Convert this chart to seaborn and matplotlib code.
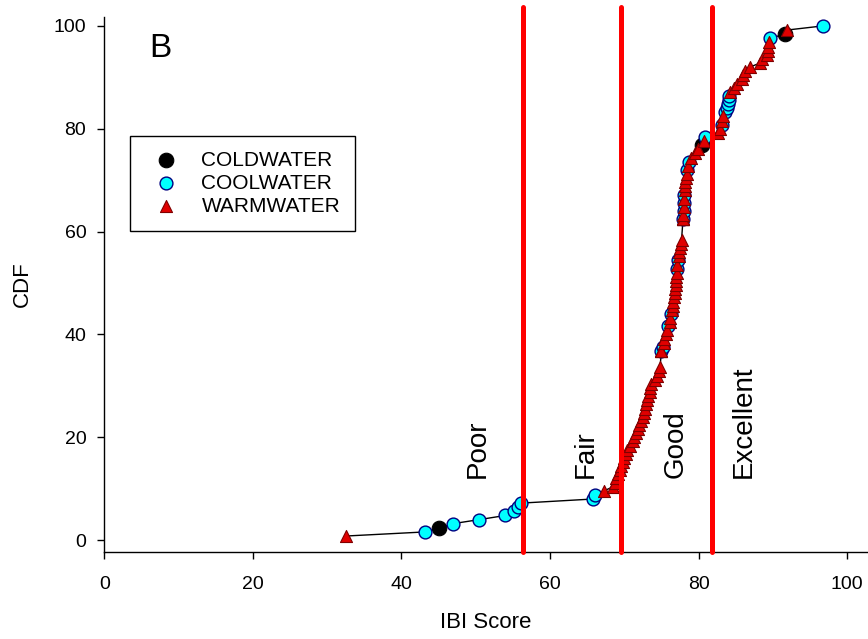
import numpy as np
import pandas as pd
import matplotlib
matplotlib.use("Agg")
import matplotlib.pyplot as plt
import seaborn as sns

# ---- data (IBI scores by stream thermal class) ----
cold_scores = [45.1, 80.4, 91.6]
cool_scores = [43.2, 46.9, 50.5, 54.0, 55.1, 55.7, 56.1, 65.8, 66.0, 75.0,
               75.2, 75.9, 76.3, 77.1, 77.2, 77.9, 77.97, 78.02, 78.08, 78.5,
               78.65, 80.9, 83.1, 83.5, 83.8, 84.0, 84.05, 84.1, 89.6, 96.7]
warm_scores = [32.5, 67.3, 68.5, 68.8, 68.9, 69.2, 69.4, 69.6, 69.8, 70.0,
               70.2, 70.4, 70.8, 71.1, 71.3, 71.6, 71.8, 72.0, 72.3, 72.5,
               72.7, 72.8, 72.9, 73.1, 73.2, 73.4, 73.5, 73.6, 74.1, 74.4,
               74.6, 74.8, 75.0, 75.0, 75.0, 75.3, 75.4, 75.6, 75.7, 76.1,
               76.2, 76.4, 76.5, 76.6, 76.7, 76.8, 76.85, 76.9, 76.95, 77.0,
               77.05, 77.15, 77.3, 77.4, 77.5, 77.6, 77.7, 77.9, 77.9, 77.9,
               77.9, 77.95, 78.0, 78.05, 78.1, 78.15, 78.2, 78.3, 78.4, 78.6,
               79.0, 79.5, 79.9, 80.7, 82.6, 82.9, 83.2, 83.3, 84.2, 84.7,
               85.1, 85.8, 86.0, 86.2, 86.9, 88.3, 88.5, 89.2, 89.3, 89.4,
               89.5, 91.9]
groups = ["COLDWATER", "COOLWATER", "WARMWATER"]
thresholds = [56.4, 69.5, 81.8]
class_labels = ["Poor", "Fair", "Good", "Excellent"]
class_label_x = [50.3, 64.8, 76.9, 86.1]
x_ticks = [0, 20, 40, 60, 80, 100]
y_ticks = [0, 20, 40, 60, 80, 100]

df = pd.DataFrame({
    "score": cold_scores + cool_scores + warm_scores,
    "group": [groups[0]] * len(cold_scores) + [groups[1]] * len(cool_scores)
             + [groups[2]] * len(warm_scores),
})
sorted_scores = np.sort(df["score"].values)
df["cdf"] = np.searchsorted(sorted_scores, df["score"].values, side="right") / len(df) * 100
df = df.sort_values(["score", "cdf"]).reset_index(drop=True)

sns.set_style("ticks")
plt.rcParams["font.family"] = ["Liberation Sans", "DejaVu Sans"]
plt.rcParams["text.color"] = "black"
plt.rcParams["axes.labelcolor"] = "black"
plt.rcParams["xtick.color"] = "black"
plt.rcParams["ytick.color"] = "black"

fig = plt.figure(figsize=(8.68, 6.39), dpi=100)
ax = fig.add_axes([0.1202, 0.1362, 0.8798, 0.8377])

sns.lineplot(data=df, x="score", y="cdf", color="black", lw=1.0,
             estimator=None, sort=True, ax=ax, zorder=2)

styles = {
    "COLDWATER": dict(marker="o", s=110, color="black", edgecolor="black", linewidth=0.8),
    "COOLWATER": dict(marker="o", s=85, color="#00FFFF", edgecolor="#000080", linewidth=1.0),
    "WARMWATER": dict(marker="^", s=75, color="#E00000", edgecolor="#800000", linewidth=0.8),
}
for g in groups:
    sub = df[df["group"] == g]
    sns.scatterplot(data=sub, x="score", y="cdf", label=g, ax=ax, zorder=3, **styles[g])

for t in thresholds:
    ax.axvline(t, ymin=0, ymax=1.018, color="#FF0000", lw=3.6, clip_on=False, zorder=4)

for lab, xpos in zip(class_labels, class_label_x):
    ax.text(xpos, 12.1, lab, rotation=90, ha="center", va="bottom", fontsize=20, color="black")

ax.text(7.5, 95.6, "B", ha="center", va="center", fontsize=24, color="black")

ax.set_xlim(0, 102.8)
ax.set_ylim(-2.3, 101.8)
ax.set_xticks(x_ticks)
ax.set_yticks(y_ticks)
ax.tick_params(axis="both", direction="out", length=5, width=1, labelsize=14,
               color="black", labelcolor="black")
ax.tick_params(axis="x", pad=12)
ax.tick_params(axis="y", pad=8)
for side in ["top", "right"]:
    ax.spines[side].set_visible(False)
for side in ["left", "bottom"]:
    ax.spines[side].set_color("black")
    ax.spines[side].set_linewidth(1)

ax.set_xlabel("IBI Score", fontsize=16, labelpad=14, color="black")
ax.set_ylabel("CDF", fontsize=16, labelpad=15, color="black")

leg = ax.legend(loc="upper left", bbox_to_anchor=(0.033, 0.777), borderaxespad=0,
                frameon=True, fancybox=False, edgecolor="black", framealpha=1,
                fontsize=15, borderpad=0.7, labelspacing=0.2,
                handlelength=2.1, handletextpad=0.65)
leg.get_frame().set_linewidth(1.0)
for txt in leg.get_texts():
    txt.set_color("black")

fig.savefig("out.png", dpi=100)
